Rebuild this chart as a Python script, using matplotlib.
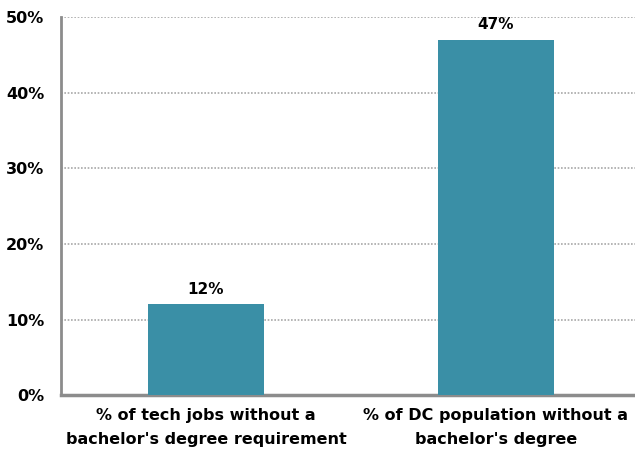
import matplotlib
matplotlib.use("Agg")
import matplotlib.pyplot as plt
from matplotlib.ticker import FuncFormatter

categories = [
    "% of tech jobs without a\nbachelor's degree requirement",
    "% of DC population without a\nbachelor's degree",
]
values = [12, 47]
bar_labels = ["12%", "47%"]
yticks = [0, 10, 20, 30, 40, 50]

bar_color = "#3a8fa6"
axis_gray = "#8c8c8c"

fig = plt.figure(figsize=(6.35, 4.59), dpi=100)
ax = fig.add_axes([0.096, 0.139, 0.904, 0.824])

x = list(range(len(categories)))
ax.bar(x, values, width=0.40, color=bar_color, zorder=3)

for xi, v, lab in zip(x, values, bar_labels):
    ax.text(xi, v + 1.0, lab, ha="center", va="bottom",
            fontsize=11, fontweight="bold")

ax.set_ylim(0, 50)
ax.set_xlim(-0.5, 1.48)
ax.set_yticks(yticks)
ax.yaxis.set_major_formatter(FuncFormatter(lambda v, p: f"{int(v)}%"))
ax.set_xticks(x)
ax.set_xticklabels(categories, fontsize=11.5, fontweight="bold", linespacing=1.75)
for t in ax.get_yticklabels():
    t.set_fontweight("bold")
    t.set_fontsize(11.5)

ax.tick_params(axis="both", length=0)
ax.tick_params(axis="y", pad=12)
ax.tick_params(axis="x", pad=9)

ax.grid(axis="y", color="#a8a8a8", linestyle=(0, (1, 1)), linewidth=1.2, zorder=0)
ax.set_axisbelow(True)

for s in ["top", "right"]:
    ax.spines[s].set_visible(False)
ax.spines["left"].set_color(axis_gray)
ax.spines["left"].set_linewidth(2)
ax.spines["bottom"].set_color(axis_gray)
ax.spines["bottom"].set_linewidth(2.5)

fig.savefig("out.png", dpi=100)
